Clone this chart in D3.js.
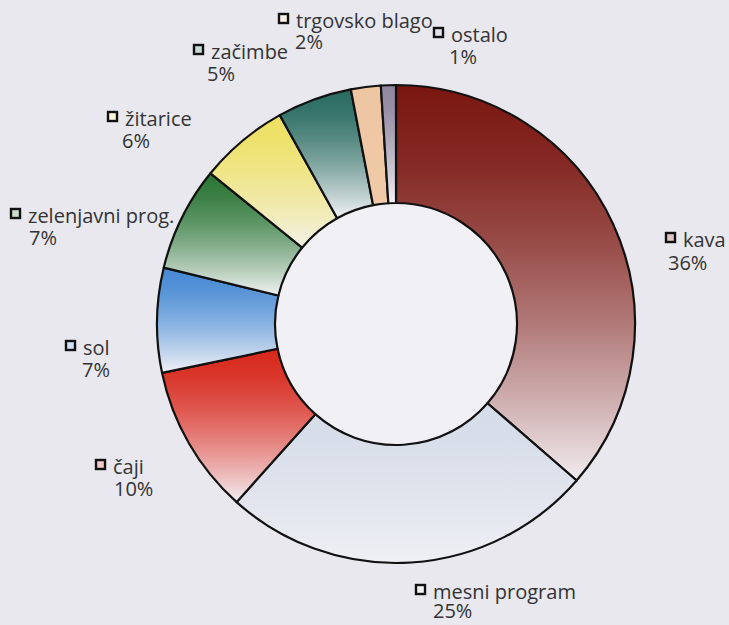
<!DOCTYPE html>
<html>
<head>
<meta charset="utf-8">
<script src="https://cdnjs.cloudflare.com/ajax/libs/d3/7.8.5/d3.min.js"></script>
<style>
  body { margin: 0; background: #e8e8ee; }
  svg { display: block; }
  .lbl { font-family: "Open Sans", "Noto Sans", sans-serif; font-size: 20px; fill: #333336; }
</style>
</head>
<body>
<svg id="chart" width="729" height="625"></svg>
<script>
// data, clockwise from 12 o'clock
var categories = ["kava", "mesni program", "čaji", "sol", "zelenjavni prog.", "žitarice", "začimbe", "trgovsko blago", "ostalo"];
var shares = [36, 25, 10, 7, 7, 6, 5, 2, 1];
var percentLabels = ["36%", "25%", "10%", "7%", "7%", "6%", "5%", "2%", "1%"];

// gradient colours (top -> bottom) for each slice
var topColors = ["#7a1610", "#d6dce8", "#d8261a", "#4689d4", "#2a7534", "#eee062", "#276a60", "#efc6a2", "#8f859f"];
var bottomColors = ["#f1ecef", "#eff0f5", "#f3edf0", "#f1f2f6", "#f0f2f2", "#f3f2e8", "#f1f2f4", "#f0caa9", "#f3f2f6"];

// label layout: marker top-left, percent x, line gap
var labelPos = [
  {x: 665, y: 232, px: 668, gap: 23},
  {x: 415, y: 584, px: 433, gap: 19},
  {x: 95, y: 459, px: 114, gap: 22},
  {x: 65, y: 340, px: 82, gap: 22},
  {x: 10, y: 208, px: 29, gap: 22},
  {x: 107, y: 111, px: 122, gap: 22},
  {x: 193, y: 44, px: 207, gap: 22},
  {x: 278, y: 13, px: 295, gap: 21},
  {x: 433, y: 27, px: 449, gap: 22}
];

var svg = d3.select("svg#chart"),
    cx = 396, cy = 324,
    outerR = 239, innerR = 121;

var data = categories.map(function(c, i) {
  return {name: c, value: shares[i], pct: percentLabels[i], top: topColors[i], bottom: bottomColors[i], pos: labelPos[i]};
});

var pie = d3.pie()
  .sort(null)
  .value(function(d) { return d.value; });

var arc = d3.arc()
  .innerRadius(innerR)
  .outerRadius(outerR);

var defs = svg.append("defs");

var grads = defs.selectAll("linearGradient")
  .data(data)
  .enter().append("linearGradient")
  .attr("id", function(d, i) { return "grad" + i; })
  .attr("x1", 0).attr("y1", 0)
  .attr("x2", 0).attr("y2", 1);

// colour holds near the top, then fades out
var stopOffsets = [0, 0.2, 0.4, 0.6, 0.8, 1];
grads.selectAll("stop")
  .data(function(d) {
    var mix = d3.interpolateRgb(d.top, d.bottom);
    return stopOffsets.map(function(t) { return {t: t, c: mix(Math.pow(t, 1.5))}; });
  })
  .enter().append("stop")
  .attr("offset", function(s) { return s.t; })
  .attr("stop-color", function(s) { return s.c; });

var g = svg.append("g")
  .attr("transform", "translate(" + cx + "," + cy + ")");

// inner hole
g.append("circle")
  .attr("r", innerR)
  .attr("fill", "#f1f1f5");

g.selectAll("path.slice")
  .data(pie(data))
  .enter().append("path")
  .attr("class", "slice")
  .attr("d", arc)
  .attr("fill", function(d, i) { return "url(#grad" + i + ")"; })
  .attr("stroke", "#111")
  .attr("stroke-width", 2.2)
  .attr("stroke-linejoin", "round");

// labels
var lbl = svg.selectAll("g.label")
  .data(data)
  .enter().append("g")
  .attr("class", "label");

lbl.append("rect")
  .attr("x", function(d) { return d.pos.x + 1; })
  .attr("y", function(d) { return d.pos.y + 1; })
  .attr("width", 9)
  .attr("height", 9)
  .attr("fill", function(d) { return d3.interpolateRgb(d.top, "#ffffff")(0.75); })
  .attr("stroke", "#111")
  .attr("stroke-width", 2.4);

var txt = lbl.append("text")
  .attr("class", "lbl");

txt.append("tspan")
  .attr("x", function(d) { return d.pos.x + 18; })
  .attr("y", function(d) { return d.pos.y + 15; })
  .text(function(d) { return d.name; });

txt.append("tspan")
  .attr("x", function(d) { return d.pos.px; })
  .attr("y", function(d) { return d.pos.y + 15 + d.pos.gap; })
  .text(function(d) { return d.pct; });
</script>
</body>
</html>
